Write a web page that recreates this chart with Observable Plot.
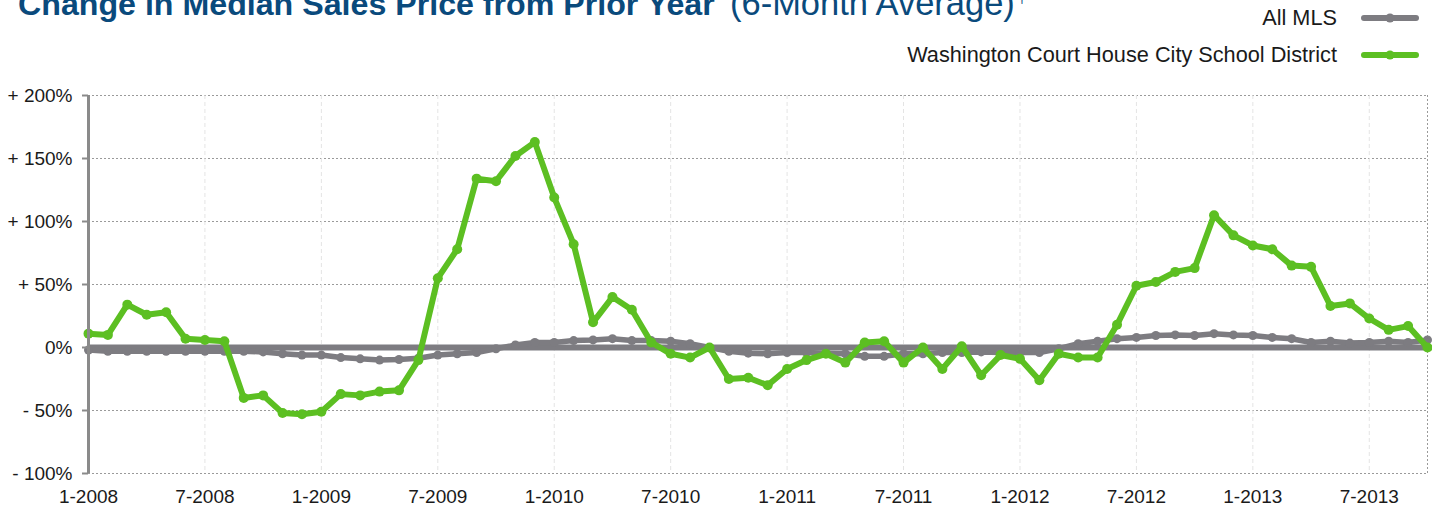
<!DOCTYPE html>
<html>
<head>
<meta charset="utf-8">
<script src="https://cdn.jsdelivr.net/npm/d3@7"></script>
<script src="https://cdn.jsdelivr.net/npm/@observablehq/plot@0.6"></script>
<style>
  body { margin: 0; background: #fff; }
  #wrap { position: relative; width: 1432px; height: 508px; overflow: hidden; }
  #overlay { position: absolute; left: 0; top: 0; pointer-events: none; }
  #chart { position: absolute; left: 0; top: 0; }
</style>
</head>
<body>
<div id="wrap">
  <div id="chart"></div>
  <svg id="overlay" width="1432" height="90" xmlns="http://www.w3.org/2000/svg">
    <text id="t1" x="18" y="15" font-family="Liberation Sans Narrow, Liberation Sans, Arial, sans-serif" font-weight="bold" font-size="34" fill="#0a4a7c">Change in Median Sales Price from Prior Year</text>
    <text id="t2" y="15" font-family="Liberation Sans Narrow, Liberation Sans, Arial, sans-serif" font-size="34" fill="#0a4a7c">(6-Month Average)</text>
    <text id="t3" y="3" font-family="Liberation Sans, Arial, sans-serif" font-size="15" fill="#0a4a7c">†</text>
    <g id="legend"></g>
  </svg>
</div>
<script>
// ---- data ----
const seriesNames = ["All MLS", "Washington Court House City School District"];
const seriesColors = ["#7d7c81", "#5cbf22"];
// monthly values, 1-2008 … 10-2013 (percent change)
const allMLS = [-2,-3,-3,-3,-3,-3,-3,-3,-3,-3.5,-5,-6,-6,-8,-9,-10,-9.5,-8.5,-6,-5,
  -4,-1,2,4,4,5.5,6,7,5.5,5.5,5,3,0,-3,-4.5,-5,-4,-4,-4.5,-5,
  -7,-7,-5,-5,-4,-4,-3.5,-4,-4,-4,-1,3,5,7,8,9.5,10,9.5,11,10,
  9.5,8,7,4,5,3.5,4,5,4,6];
const washington = [11,10,34,26,28,7,6,5,-40,-38,-52,-53,-51,-37,-38,-35,-34,-10,55,78,
  134,132,152,163,119,82,20,40,30,4,-5,-8,0,-25,-24,-30,-17,-10,-5,-12,
  4,5,-12,0,-17,1,-22,-6,-9,-26,-5,-8,-8,18,49,52,60,63,105,89,
  81,78,65,64,33,35,23,14,17,0];
const xTickIndex = [0,6,12,18,24,30,36,42,48,54,60,66];
const xTickLabels = ["1-2008","7-2008","1-2009","7-2009","1-2010","7-2010","1-2011","7-2011","1-2012","7-2012","1-2013","7-2013"];
const yTickValues = [200,150,100,50,0,-50,-100];
const yTickLabels = ["+ 200%","+ 150%","+ 100%","+ 50%","0%","- 50%","- 100%"];

const rows = [];
[allMLS, washington].forEach((arr, s) => arr.forEach((v, i) => rows.push({i, v, s: seriesNames[s]})));
const lastIndex = allMLS.length - 1;

const chart = Plot.plot({
  width: 1432,
  height: 508,
  marginTop: 95,
  marginBottom: 35,
  marginLeft: 88,
  marginRight: 5,
  style: {fontSize: "19px", fontFamily: "Liberation Sans, Arial, sans-serif", background: "transparent", overflow: "visible"},
  x: {type: "linear", domain: [0, lastIndex], label: null},
  y: {domain: [-100, 200], label: null},
  color: {domain: seriesNames, range: seriesColors},
  marks: [
    Plot.ruleY(yTickValues.filter(v => v !== 0), {stroke: "#9a9a9a", strokeDasharray: "2,2", strokeWidth: 1}),
    Plot.ruleX(xTickIndex.slice(1), {stroke: "#e4e4e4", strokeDasharray: "4,3", strokeWidth: 1}),
    Plot.ruleX([lastIndex], {stroke: "#9a9a9a", strokeDasharray: "2,2", strokeWidth: 1}),
    Plot.ruleY([0], {stroke: "#7d7c81", strokeWidth: 6}),
    Plot.lineY(rows.filter(d => d.s === seriesNames[0]), {x: "i", y: "v", stroke: seriesColors[0], strokeWidth: 5.5, strokeLinejoin: "round"}),
    Plot.dot(rows.filter(d => d.s === seriesNames[0]), {x: "i", y: "v", fill: seriesColors[0], r: 4.5}),
    Plot.lineY(rows.filter(d => d.s === seriesNames[1]), {x: "i", y: "v", stroke: seriesColors[1], strokeWidth: 6, strokeLinejoin: "round"}),
    Plot.dot(rows.filter(d => d.s === seriesNames[1]), {x: "i", y: "v", fill: seriesColors[1], r: 5}),
    Plot.ruleX([0], {stroke: "#8a8a8a", strokeWidth: 3}),
    Plot.axisY(yTickValues, {tickSize: 6, tickPadding: 10, stroke: "#8a8a8a", strokeWidth: 2, fill: "#1a1a1a",
      tickFormat: v => yTickLabels[yTickValues.indexOf(v)], label: null}),
    Plot.axisX(xTickIndex, {tickSize: 0, tickPadding: 16, fill: "#1a1a1a",
      tickFormat: v => xTickLabels[xTickIndex.indexOf(v)], label: null})
  ]
});
document.getElementById("chart").appendChild(chart);

// ---- title sizing ----
const t1 = document.getElementById("t1"), t2 = document.getElementById("t2"), t3 = document.getElementById("t3");
const fs1 = 34 * 697 / t1.getComputedTextLength();
t1.setAttribute("font-size", fs1);
const fs2 = 34 * 285 / t2.getComputedTextLength();
t2.setAttribute("font-size", fs2);
t2.setAttribute("x", 730);
t3.setAttribute("x", 730 + t2.getComputedTextLength() + 3);

// ---- legend ----
const ns = "http://www.w3.org/2000/svg";
const lg = document.getElementById("legend");
const legY = [18, 55];
const texts = [];
seriesNames.forEach((name, k) => {
  const tx = document.createElementNS(ns, "text");
  tx.setAttribute("x", 1337); tx.setAttribute("y", legY[k] + 7);
  tx.setAttribute("text-anchor", "end");
  tx.setAttribute("font-family", "Liberation Sans, Arial, sans-serif");
  tx.setAttribute("font-size", 18);
  tx.setAttribute("fill", "#1a1a1a");
  tx.textContent = name;
  lg.appendChild(tx);
  texts.push(tx);
  const ln = document.createElementNS(ns, "line");
  ln.setAttribute("x1", 1364); ln.setAttribute("x2", 1416);
  ln.setAttribute("y1", legY[k]); ln.setAttribute("y2", legY[k]);
  ln.setAttribute("stroke", seriesColors[k]); ln.setAttribute("stroke-width", 6);
  ln.setAttribute("stroke-linecap", "round");
  lg.appendChild(ln);
  const c = document.createElementNS(ns, "circle");
  c.setAttribute("cx", 1390); c.setAttribute("cy", legY[k]); c.setAttribute("r", 4.5);
  c.setAttribute("fill", seriesColors[k]);
  lg.appendChild(c);
});
const lfs = Math.min(23, 18 * 430 / texts[1].getComputedTextLength());
texts.forEach(t => t.setAttribute("font-size", lfs));
</script>
</body>
</html>
